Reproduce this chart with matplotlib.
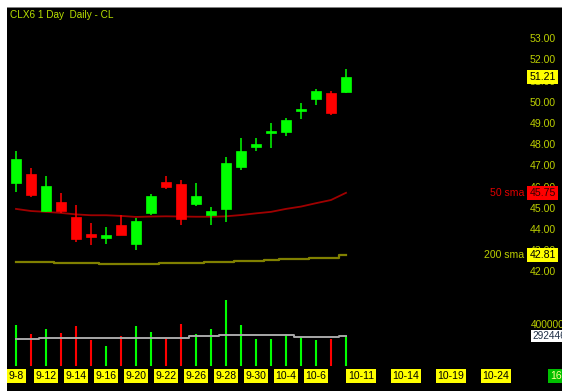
import matplotlib
matplotlib.use("Agg")
import matplotlib.pyplot as plt
from matplotlib.patches import Rectangle
from matplotlib.transforms import blended_transform_factory
import numpy as np

plt.rcParams['font.family'] = ['Liberation Sans', 'DejaVu Sans']

# ---------------- data ----------------
dates = ["9-8", "9-9", "9-12", "9-13", "9-14", "9-15", "9-16", "9-19", "9-20", "9-21",
         "9-22", "9-23", "9-26", "9-27", "9-28", "9-29", "9-30", "10-3", "10-4", "10-5",
         "10-6", "10-7", "10-10"]
opens  = [46.23, 46.63, 44.88, 45.30, 44.62, 43.79, 43.63, 44.22, 43.34, 44.78,
          46.25, 46.15, 45.24, 44.70, 44.99, 46.98, 47.92, 48.62, 48.62, 49.65,
          50.20, 50.45, 50.51]
highs  = [47.73, 46.92, 46.55, 45.76, 45.16, 44.34, 44.12, 44.72, 44.58, 45.68,
          46.55, 46.36, 46.20, 45.10, 47.44, 48.33, 48.33, 49.03, 49.28, 49.98,
          50.64, 50.56, 51.60]
lows   = [45.78, 45.57, 44.85, 44.78, 43.42, 43.27, 43.34, 43.74, 43.05, 44.69,
          45.95, 44.22, 45.14, 44.23, 44.39, 46.83, 47.74, 47.87, 48.45, 49.24,
          49.91, 49.41, 50.48]
closes = [47.33, 45.65, 46.09, 44.91, 43.59, 43.67, 43.75, 43.76, 44.42, 45.62,
          46.04, 44.53, 45.62, 44.91, 47.16, 47.74, 48.07, 48.66, 49.19, 49.67,
          50.56, 49.53, 51.21]
volumes = [400000, 313000, 355000, 323000, 390000, 255000, 197000, 291000, 390000, 332000,
           274000, 410000, 310000, 358000, 639000, 400000, 261000, 261000, 310000, 278000,
           255000, 261000, 292446]
vol_avg = [264000, 264000, 274000, 274000, 274000, 274000, 274000, 274000, 274000, 274000,
           274000, 274000, 288000, 288000, 297000, 297000, 297000, 297000, 297000, 281000,
           281000, 281000, 293000]
sma50 = [44.99, 44.89, 44.85, 44.80, 44.73, 44.69, 44.69, 44.66, 44.61, 44.63,
         44.64, 44.63, 44.62, 44.62, 44.64, 44.70, 44.78, 44.85, 44.99, 45.10,
         45.26, 45.41, 45.75]
sma200 = [42.50, 42.50, 42.50, 42.45, 42.45, 42.45, 42.41, 42.41, 42.41, 42.41,
          42.45, 42.45, 42.45, 42.50, 42.50, 42.55, 42.55, 42.59, 42.64, 42.64,
          42.69, 42.69, 42.81]
price_ticks = [42, 43, 44, 45, 46, 47, 48, 49, 50, 51, 52, 53]
vol_tick = 400000
future_labels = ["10-11", "10-14", "10-19", "10-24"]
future_pos = [23, 26, 29, 32]
month_label = "16"
month_pos = 36
title = "CLX6 1 Day  Daily - CL"

# ---------------- styles ----------------
W, H = 570, 391
GREEN = "#00ff00"
RED = "#ff0000"
TXT = "#bccf00"
FS = 7.6

def fx(px):
    return px / W

def fy(py):
    return 1 - py / H

fig = plt.figure(figsize=(W / 100, H / 100), dpi=100)
fig.patch.set_facecolor("white")
fig.add_artist(Rectangle((fx(7), 0), fx(562) - fx(7), fy(7), transform=fig.transFigure,
                         facecolor="black", edgecolor="none", zorder=0))
fig.add_artist(Rectangle((fx(7), fy(8)), fx(562) - fx(7), 1 / H, transform=fig.transFigure,
                         facecolor="#808080", edgecolor="none", zorder=0))

ax_p = fig.add_axes([fx(7), fy(290), fx(562) - fx(7), fy(7) - fy(290)])
ax_v = fig.add_axes([fx(7), fy(391), fx(562) - fx(7), fy(290) - fy(391)])
for ax in (ax_p, ax_v):
    ax.set_facecolor("none")
    ax.set_axis_off()
    ax.set_xlim(-0.6, 36.4)
ax_p.set_ylim(41.16, 54.525)
ax_v.set_ylim(-242000, 736000)

x = np.arange(len(dates))
o = np.array(opens); c = np.array(closes); h = np.array(highs); l = np.array(lows)
up = c >= o
cols = [GREEN if u else RED for u in up]

# price ticks (drawn first so boxes cover them)
tp = blended_transform_factory(ax_p.transAxes, ax_p.transData)
for p in price_ticks:
    ax_p.text(0.989, p, f"{p:.2f}", transform=tp, ha="right", va="center",
              color=TXT, fontsize=FS, zorder=2)

# moving averages
ax_p.plot(x, sma50, color="#a00000", lw=1.3, zorder=3)
ax_p.plot(x, sma200, color="#808000", lw=1.6, drawstyle="steps-mid", zorder=3)

# candles
ax_p.vlines(x, l, h, colors=cols, lw=1.1, zorder=4)
body_h = np.maximum(np.abs(c - o), 0.09)
body_b = np.minimum(o, c) - (body_h - np.abs(c - o)) / 2
ax_p.bar(x, body_h, bottom=body_b, width=0.67, color=cols, edgecolor=cols, lw=0.5, zorder=5)

# right side labels
box = dict(boxstyle="square,pad=0.2", ec="none")
ax_p.text(0.989, closes[-1], f"{closes[-1]:.2f}", transform=tp, ha="right", va="center",
          color="black", fontsize=FS, zorder=6, bbox=dict(box, fc="#ffff00"))
ax_p.text(0.989, sma50[-1], f"{sma50[-1]:.2f}", transform=tp, ha="right", va="center",
          color="#300000", fontsize=FS, zorder=6, bbox=dict(box, fc=RED))
ax_p.text(0.932, sma50[-1], "50 sma", transform=tp, ha="right", va="center",
          color="#e00000", fontsize=FS, zorder=6)
ax_p.text(0.989, sma200[-1], f"{sma200[-1]:.2f}", transform=tp, ha="right", va="center",
          color="black", fontsize=FS, zorder=6, bbox=dict(box, fc="#ffff00"))
ax_p.text(0.932, sma200[-1], "200 sma", transform=tp, ha="right", va="center",
          color=TXT, fontsize=FS, zorder=6)

# volume
ax_v.vlines(x, 0, volumes, colors=cols, lw=1.5, zorder=3)
ax_v.plot(x, vol_avg, color="#a8a8a8", lw=1.4, drawstyle="steps-mid", zorder=4)
tv = blended_transform_factory(ax_v.transAxes, ax_v.transData)
ax_v.text(0.944, vol_tick, f"{vol_tick}", transform=tv, ha="left", va="center",
          color=TXT, fontsize=7.3, clip_on=True, zorder=5)
ax_v.text(0.946, volumes[-1], f"{volumes[-1]}", transform=tv, ha="left", va="center",
          color="#203048", fontsize=7.3, clip_on=True, zorder=6,
          bbox=dict(boxstyle="square,pad=0.12", fc="white", ec="none"))

# date labels
td = blended_transform_factory(ax_v.transData, ax_v.transAxes)
lab_pos = list(range(0, len(dates) - 1, 2)) + future_pos
lab_txt = [dates[i] for i in range(0, len(dates) - 1, 2)] + future_labels
for xp, t in zip(lab_pos, lab_txt):
    ax_v.text(xp, 0.149, t, transform=td, ha="center", va="center", color="black",
              fontsize=7.5, clip_on=True,
              bbox=dict(boxstyle="square,pad=0.18", fc="#ffff00", ec="none"))
ax_v.text(month_pos, 0.149, month_label, transform=td, ha="center", va="center",
          color="#ffff90", fontsize=7.5, clip_on=True,
          bbox=dict(boxstyle="square,pad=0.18", fc="#00c000", ec="none"))

fig.text(fx(10), fy(15), title, ha="left", va="center", color="#b8e000", fontsize=7.2)

fig.savefig("out.png", dpi=100, facecolor="white")
